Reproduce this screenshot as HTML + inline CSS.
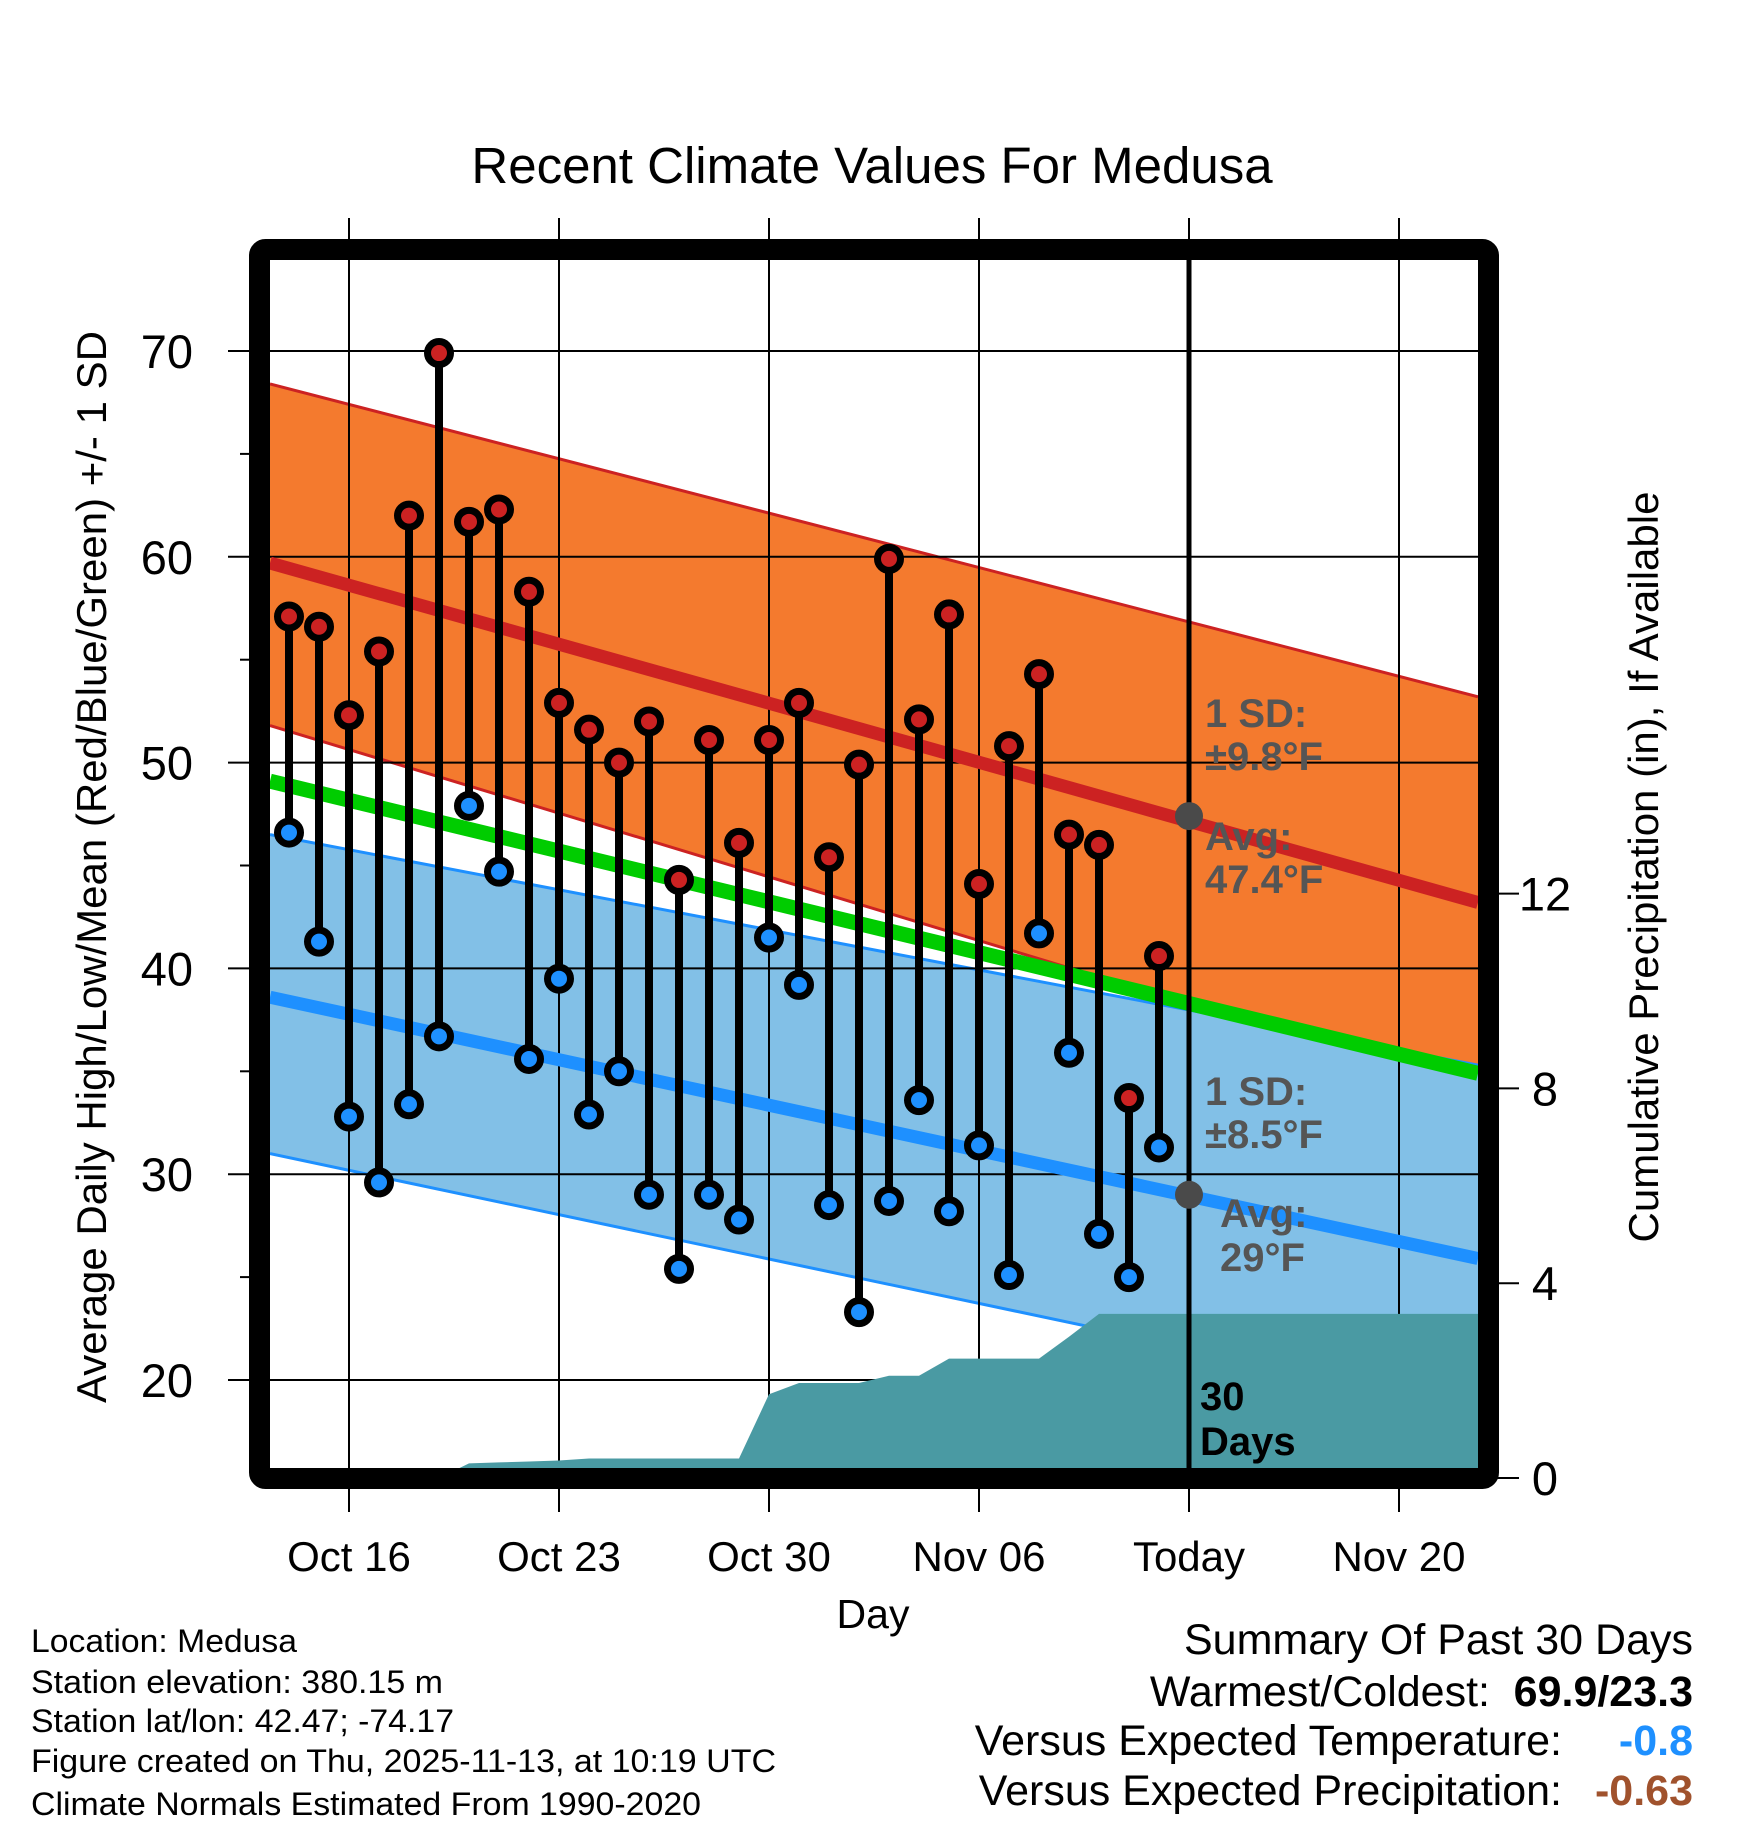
<!DOCTYPE html>
<html><head><meta charset="utf-8"><style>
html,body{margin:0;padding:0;background:#fff;}
svg{display:block;font-family:"Liberation Sans",Arial,sans-serif;}
</style></head><body>
<svg id="chart" width="1748" height="1828" viewBox="0 0 1748 1828" xmlns="http://www.w3.org/2000/svg">
<rect width="1748" height="1828" fill="#fff"/>
<defs><clipPath id="plotclip"><rect x="270" y="260" width="1208" height="1208"/></clipPath></defs>
<text x="872" y="183" font-size="51" text-anchor="middle">Recent Climate Values For Medusa</text>
<g id="bands" clip-path="url(#plotclip)"></g>
<g id="grid"></g>
<g id="precip" clip-path="url(#plotclip)"></g>
<g id="normals" clip-path="url(#plotclip)"></g>
<g id="marks"></g>
<rect x="259.5" y="249.5" width="1229" height="1229" rx="6" fill="none" stroke="#000" stroke-width="21"/>
<g id="labels"></g>
<text transform="translate(106,867) rotate(-90)" font-size="42" text-anchor="middle">Average Daily High/Low/Mean (Red/Blue/Green) +/- 1 SD</text>
<text transform="translate(1658,867) rotate(-90)" font-size="42" text-anchor="middle">Cumulative Precipitation (in), If Available</text>
<text x="873" y="1628" font-size="41" text-anchor="middle">Day</text>
<g font-size="32">
<text x="31" y="1652" textLength="266" lengthAdjust="spacingAndGlyphs">Location: Medusa</text>
<text x="31" y="1693" textLength="412" lengthAdjust="spacingAndGlyphs">Station elevation: 380.15 m</text>
<text x="31" y="1732" textLength="423" lengthAdjust="spacingAndGlyphs">Station lat/lon: 42.47; -74.17</text>
<text x="31" y="1772" textLength="745" lengthAdjust="spacingAndGlyphs">Figure created on Thu, 2025-11-13, at 10:19 UTC</text>
<text x="31" y="1815" textLength="670" lengthAdjust="spacingAndGlyphs">Climate Normals Estimated From 1990-2020</text>
</g>
<g font-size="43">
<text x="1693" y="1654" text-anchor="end">Summary Of Past 30 Days</text>
<text x="1490" y="1706" text-anchor="end">Warmest/Coldest:</text>
<text x="1693" y="1706" text-anchor="end" font-weight="bold">69.9/23.3</text>
<text x="1562" y="1755" text-anchor="end">Versus Expected Temperature:</text>
<text x="1693" y="1755" text-anchor="end" font-weight="bold" fill="#1e90ff">-0.8</text>
<text x="1562" y="1805" text-anchor="end">Versus Expected Precipitation:</text>
<text x="1693" y="1805" text-anchor="end" font-weight="bold" fill="#a0522d">-0.63</text>
</g>
</svg>
<script>
// data (day index 0 = Oct 14 ... 29 = Nov 12)
const highs = [57.1,56.6,52.3,55.4,62.0,69.9,61.7,62.3,58.3,52.9,51.6,50.0,52.0,44.3,51.1,46.1,51.1,52.9,45.4,49.9,59.9,52.1,57.2,44.1,50.8,54.3,46.5,46.0,33.7,40.6];
const lows = [46.6,41.3,32.8,29.6,33.4,36.7,47.9,44.7,35.6,39.5,32.9,35.0,29.0,25.4,29.0,27.8,41.5,39.2,28.5,23.3,28.7,33.6,28.2,31.4,25.1,41.7,35.9,27.1,25.0,31.3];
const precip = [0,0,0,0,0,0,0.3,0.32,0.34,0.36,0.4,0.4,0.4,0.4,0.4,0.4,1.72,1.95,1.95,1.95,2.1,2.1,2.45,2.45,2.45,2.45,2.9,3.37,3.37,3.37];
const tempTicks = [20,30,40,50,60,70];
const minorTicks = [25,35,45,55,65];
const precipTicks = [0,4,8,12];
const dateLabels = ["Oct 16","Oct 23","Oct 30","Nov 06","Today","Nov 20"];
const dateOffsets = [2,9,16,23,30,37]; // days from Oct 14
// normals at left edge / right edge of plot
const normHigh = [59.7,43.2], normHighUp=[68.4,53.2], normHighLo=[51.8,34.0];
const normLow = [38.6,25.9], normLowUp=[46.5,35.3], normLowLo=[31.0,18.6];
const normMean = [49.1,34.9];
const todayHigh = 47.4, todayLow = 29.0;

const NS="http://www.w3.org/2000/svg";
const X0=349, DX=30.0; // Oct16 position
const xd = d => X0 + (d-2)*DX;
const yT = t => 351 + (70-t)*20.58;
const yP = p => 1478 - p*48.7;
const L=270, R=1478, T=260, B=1468;
function mk(tag, attrs, parent){const e=document.createElementNS(NS,tag);for(const k in attrs)e.setAttribute(k,attrs[k]);parent.appendChild(e);return e;}
const g = id => document.getElementById(id);

function band(up,lo,fill,edge,name){
  const p=mk('polygon',{points:`${L},${yT(up[0])} ${R},${yT(up[1])} ${R},${yT(lo[1])} ${L},${yT(lo[0])}`,fill:fill},g('bands'));
  
  
  mk('line',{x1:L,y1:yT(up[0]),x2:R,y2:yT(up[1]),stroke:edge,'stroke-width':3},g('bands'));
  mk('line',{x1:L,y1:yT(lo[0]),x2:R,y2:yT(lo[1]),stroke:edge,'stroke-width':3},g('bands'));
}
band(normHighUp,normHighLo,'#f47a2e','#cc2222','high-sd-band');
band(normLowUp,normLowLo,'#82c0e7','#1e90ff','low-sd-band');

function nline(v,col,w,name){
  const l=mk('line',{x1:L,y1:yT(v[0]),x2:R,y2:yT(v[1]),stroke:col,'stroke-width':w},g('normals'));
  
  
}
nline(normMean,'#00cc00',15,'normal-mean-line');
nline(normHigh,'#cc2222',13,'normal-high-line');
nline(normLow,'#1e90ff',13,'normal-low-line');

// grid
tempTicks.forEach(t=>{
  const l=mk('line',{x1:228,y1:yT(t),x2:R,y2:yT(t),stroke:'#000','stroke-width':2},g('grid'));
  
  
  const tx=mk('text',{x:193,y:yT(t)+17,'font-size':47,'text-anchor':'end'},g('labels'));
  tx.textContent=t;
  
  
});
minorTicks.forEach(t=>{mk('line',{x1:240,y1:yT(t),x2:252,y2:yT(t),stroke:'#000','stroke-width':2},g('grid'));});
dateOffsets.forEach((d,i)=>{
  const x=xd(d);
  const l=mk('line',{x1:x,y1:218,x2:x,y2:1512,stroke:'#000','stroke-width':2},g('grid'));
  
  
  const tx=mk('text',{x:x,y:1571,'font-size':42,'text-anchor':'middle'},g('labels'));
  tx.textContent=dateLabels[i];
  
  
});
precipTicks.forEach(p=>{
  mk('line',{x1:1490,y1:yP(p),x2:1519,y2:yP(p),stroke:'#000','stroke-width':2},g('labels'));
  const tx=mk('text',{x:1545,y:yP(p)+17,'font-size':47,'text-anchor':'middle'},g('labels'));
  tx.textContent=p;
  
  
});

// precipitation area
let pts=`${L},${B+5} ${L},${yP(precip[0])} `;
precip.forEach((p,i)=>{pts+=`${xd(i)},${yP(p)} `;});
pts+=`${R},${yP(precip[precip.length-1])} ${R},${B+5}`;
const pa=mk('polygon',{points:pts,fill:'#4a9aa3'},g('precip'));



// today line
const todayX=xd(30);
const tl=mk('line',{x1:todayX,y1:T,x2:todayX,y2:B,stroke:'#000','stroke-width':5},g('marks'));


[todayHigh,todayLow].forEach(v=>{
  const c=mk('circle',{cx:todayX,cy:yT(v),r:14,fill:'#4a4a4a'},g('marks'));
  
  
});

// annotations
function lab(x,y,s,col,name){const t=mk('text',{x:x,y:y,'font-size':40,'font-weight':'bold',fill:col},g('marks'));t.textContent=s;
  
  }
lab(1205,727,'1 SD:','#555','high-sd-label');
lab(1205,770,'±9.8°F','#555','high-sd-value');
lab(1205,850,'Avg:','#555','high-avg-label');
lab(1205,893,'47.4°F','#555','high-avg-value');
lab(1205,1105,'1 SD:','#555','low-sd-label');
lab(1205,1148,'±8.5°F','#555','low-sd-value');
lab(1220,1227,'Avg:','#555','low-avg-label');
lab(1220,1271,'29°F','#555','low-avg-value');
lab(1200,1410,'30','#000','days-label');
lab(1200,1455,'Days','#000','days-label-2');

// stems and markers
highs.forEach((h,i)=>{
  const x=xd(i);
  const s=mk('line',{x1:x,y1:yT(h),x2:x,y2:yT(lows[i]),stroke:'#000','stroke-width':8},g('marks'));
  
  
});
highs.forEach((h,i)=>{
  const x=xd(i);
  const c1=mk('circle',{cx:x,cy:yT(h),r:11.5,fill:'#cc2222',stroke:'#000','stroke-width':7},g('marks'));
  
  
  const c2=mk('circle',{cx:x,cy:yT(lows[i]),r:11.5,fill:'#1e90ff',stroke:'#000','stroke-width':7},g('marks'));
  
  
});
</script>
</body></html>
